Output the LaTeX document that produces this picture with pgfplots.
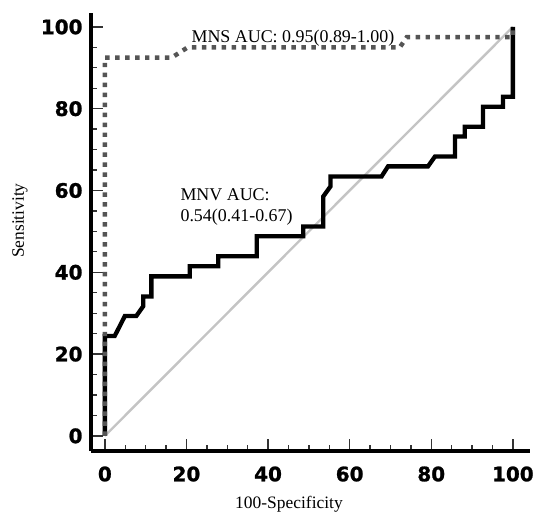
\documentclass[border=0pt]{standalone}
\usepackage{fontspec}
\setmainfont{Liberation Serif}
\newfontfamily\tickfont{DejaVu Sans}[BoldFeatures={FakeBold=1.2}]
\usepackage{pgfplots}
\pgfplotsset{compat=1.18}
\definecolor{mnsgray}{HTML}{555555}
\definecolor{diaggray}{HTML}{C4C4C4}
\begin{document}
\begin{tikzpicture}
\useasboundingbox (-91bp,-66bp) rectangle (444bp,451bp);
\begin{axis}[
  at={(0,0)}, anchor=south west,
  scale only axis,
  width=439bp, height=438bp,
  xmin=-3.4, xmax=104.2,
  ymin=-3.7, ymax=103.4,
  axis lines=left,
  axis line style={-, line width=3.8pt, black},
  xtick={0,20,...,100}, ytick={0,20,...,100},
  minor tick num=3,
  tick align=inside,
  major tick length=12pt, minor tick length=6pt,
  tick style={line width=1.3pt, black!80},
  /pgf/number format/assume math mode=true,
  ticklabel style={font=\tickfont\bfseries\fontsize{20}{24}\selectfont},
  xticklabel style={yshift=-12pt},
  yticklabel style={xshift=-5pt},
  xlabel={100-Specificity},
  xlabel style={at={(axis description cs:0.451,-0.121)}, anchor=center, font=\fontsize{17.5}{20}\selectfont},
  ylabel={Sensitivity},
  ylabel style={at={(axis description cs:-0.162,0.526)}, anchor=center, rotate=0, font=\fontsize{17.5}{20}\selectfont},
  clip=false,
]
% chance line
\addplot[diaggray, line width=2.4pt] coordinates {(0,0) (100,100)};
% MNV
\addplot[black, line width=4.3pt, line join=miter] coordinates {
  (0,0) (0,24.4) (2.4,24.4) (4.9,29.3) (7.7,29.3) (9.4,31.7) (9.4,34.1)
  (11.4,34.1) (11.4,39.0) (20.8,39.0) (20.8,41.5) (27.8,41.5) (27.8,43.9)
  (37.2,43.9) (37.2,48.8) (48.6,48.8) (48.6,51.2) (53.5,51.2) (53.5,58.5)
  (55.3,61.0) (55.3,63.4) (67.8,63.4) (69.4,65.9) (79.2,65.9) (80.9,68.3)
  (85.8,68.3) (85.8,73.2) (88.2,73.2) (88.2,75.6) (92.7,75.6) (92.7,80.5)
  (97.6,80.5) (97.6,82.9) (100,82.9) (100,100)
};
% MNS
\addplot[mnsgray, line width=4.5pt, dash pattern=on 4.5pt off 5.5pt] coordinates {
  (0,0) (0,92.5) (16.4,92.5) (20.3,95) (72.3,95) (74,97.5) (100,97.5) (100,100)
};
\node[anchor=base west, inner sep=0pt, font=\fontsize{18}{20}\selectfont] at (axis cs:21.2,96.1) {MNS AUC: 0.95(0.89-1.00)};
\node[anchor=base west, inner sep=0pt, font=\fontsize{18}{20}\selectfont] at (axis cs:18.5,57.5) {MNV AUC:};
\node[anchor=base west, inner sep=0pt, font=\fontsize{18}{20}\selectfont] at (axis cs:18.5,52.4) {0.54(0.41-0.67)};
\end{axis}
\end{tikzpicture}
\end{document}
